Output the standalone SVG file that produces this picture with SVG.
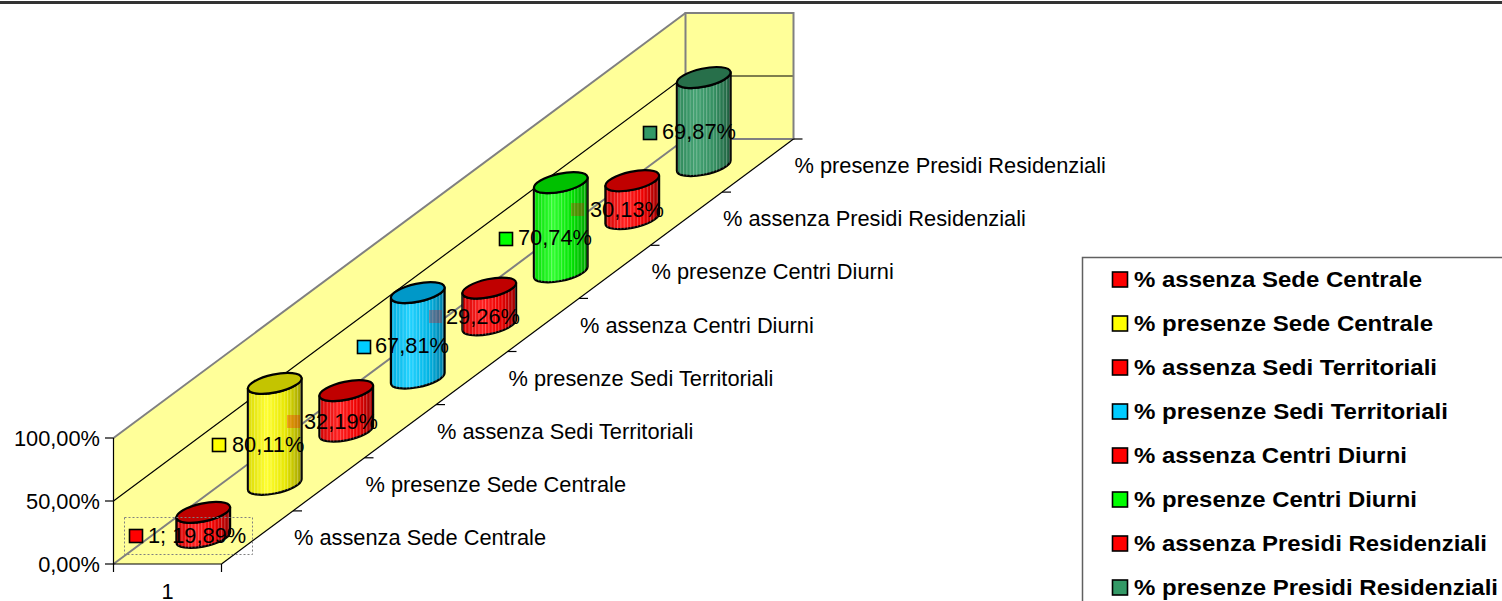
<svg xmlns="http://www.w3.org/2000/svg" width="1502" height="601" viewBox="0 0 1502 601">
<style>
text{font-family:"Liberation Sans",Arial,sans-serif;fill:#000}
.t{font-size:21.8px}
.lg{font-size:22px;font-weight:bold}
.wall{fill:#FFFF99;stroke:none}
.edge{stroke:#808080;stroke-width:2;fill:none}
.blk{stroke:#000;stroke-width:1.2;fill:none}
.body{stroke:#000;stroke-width:2.2;stroke-linejoin:round}
.str{fill:url(#stripes);stroke:none}
.cap{stroke:#000;stroke-width:2.2}
.mk{stroke:#000;stroke-width:1.6}
.fm{fill:#FF0000;opacity:.28;stroke:none}
</style>
<defs>
<pattern id="stripes" patternUnits="userSpaceOnUse" width="3.3" height="40">
<rect x="0" y="0" width="1" height="40" fill="#ffffff" opacity="0.28"/>
</pattern>
<linearGradient id="gR" x1="0" y1="0" x2="1" y2="0">
<stop offset="0" stop-color="#D00000"/><stop offset="0.35" stop-color="#FF2020"/><stop offset="0.7" stop-color="#EE0000"/><stop offset="1" stop-color="#9A0000"/>
</linearGradient>
<linearGradient id="gY" x1="0" y1="0" x2="1" y2="0">
<stop offset="0" stop-color="#DADA00"/><stop offset="0.35" stop-color="#FFFF30"/><stop offset="0.7" stop-color="#E6E600"/><stop offset="1" stop-color="#A0A000"/>
</linearGradient>
<linearGradient id="gB" x1="0" y1="0" x2="1" y2="0">
<stop offset="0" stop-color="#00AEDF"/><stop offset="0.35" stop-color="#22D2FF"/><stop offset="0.7" stop-color="#00B4E4"/><stop offset="1" stop-color="#007CA4"/>
</linearGradient>
<linearGradient id="gG" x1="0" y1="0" x2="1" y2="0">
<stop offset="0" stop-color="#00DC00"/><stop offset="0.35" stop-color="#30FF30"/><stop offset="0.7" stop-color="#00E400"/><stop offset="1" stop-color="#00A000"/>
</linearGradient>
<linearGradient id="gD" x1="0" y1="0" x2="1" y2="0">
<stop offset="0" stop-color="#2C8658"/><stop offset="0.35" stop-color="#44A272"/><stop offset="0.7" stop-color="#338E60"/><stop offset="1" stop-color="#1E5E3E"/>
</linearGradient>
</defs>
<rect x="0" y="0" width="1502" height="601" fill="#ffffff"/>
<line x1="0" y1="2.5" x2="1502" y2="2.5" stroke="#333333" stroke-width="3"/>

<g id="plot-area">
<polygon class="wall" points="113.5,438 685.5,13 685.5,139 113.5,564"/>
<rect class="wall" x="685.5" y="13" width="108" height="126"/>
<polygon class="wall" points="113.5,564 221.5,564 793.5,139 685.5,139"/>
<polyline class="blk" points="113.5,501 685.5,76 793.5,76"/>
<line class="edge" x1="113.5" y1="438" x2="685.5" y2="13"/>
<rect class="edge" x="685.5" y="13" width="108" height="126"/>
<line class="edge" x1="113.5" y1="564" x2="685.5" y2="139"/>
<line class="blk" x1="221.5" y1="564" x2="793.5" y2="139"/>
<line class="blk" x1="113.5" y1="564" x2="221.5" y2="564"/>
<line class="blk" x1="113.5" y1="438" x2="113.5" y2="572"/>
<line class="blk" x1="221.5" y1="564" x2="221.5" y2="572"/>
<line class="blk" x1="105" y1="438" x2="113.5" y2="438"/>
<line class="blk" x1="105" y1="501" x2="113.5" y2="501"/>
<line class="blk" x1="105" y1="564" x2="113.5" y2="564"/>
<g class="blk">
<line x1="293" y1="510.9" x2="302" y2="510.9"/>
<line x1="364.5" y1="457.8" x2="373.5" y2="457.8"/>
<line x1="436" y1="404.6" x2="445" y2="404.6"/>
<line x1="507.5" y1="351.5" x2="516.5" y2="351.5"/>
<line x1="579" y1="298.4" x2="588" y2="298.4"/>
<line x1="650.5" y1="245.3" x2="659.5" y2="245.3"/>
<line x1="722" y1="192.1" x2="731" y2="192.1"/>
<line x1="793.5" y1="139" x2="802.5" y2="139"/>
</g>
</g>

<g id="axis-labels" class="t">
<text x="100" y="445.5" text-anchor="end">100,00%</text>
<text x="100" y="508.5" text-anchor="end">50,00%</text>
<text x="100" y="571.5" text-anchor="end">0,00%</text>
<text x="167.5" y="599" text-anchor="middle">1</text>
<text x="294" y="545">% assenza Sede Centrale</text>
<text x="365.5" y="491.9">% presenze Sede Centrale</text>
<text x="437" y="438.8">% assenza Sedi Territoriali</text>
<text x="508.5" y="385.6">% presenze Sedi Territoriali</text>
<text x="580" y="332.5">% assenza Centri Diurni</text>
<text x="651.5" y="279.4">% presenze Centri Diurni</text>
<text x="723" y="226.3">% assenza Presidi Residenziali</text>
<text x="794.5" y="173.1">% presenze Presidi Residenziali</text>
</g>

<g id="s0-assenza-sede-centrale">
<path class="body" fill="url(#gR)" d="M176.39,517.46 L176.39,542.52 A27.39,9.01,-12.04,0,0,230.11,532.36 L230.11,507.30 A27.39,9.01,-12.04,0,1,176.39,517.46Z"/>
<path class="str" d="M176.39,517.46 L176.39,542.52 A27.39,9.01,-12.04,0,0,230.11,532.36 L230.11,507.30 A27.39,9.01,-12.04,0,1,176.39,517.46Z"/>
<ellipse class="cap" fill="#C00000" cx="203.25" cy="512.38" rx="27.39" ry="9.01" transform="rotate(-12.04 203.25 512.38)"/>
<rect x="124.5" y="517.5" width="128" height="37" fill="none" stroke="#808080" stroke-width="1" stroke-dasharray="2 2"/>
<rect class="mk" x="129.5" y="529.5" width="13" height="13" fill="#FF0000"/>
<text class="t" x="148" y="543">1; 19,89%</text>
</g>

<g id="s1-presenze-sede-centrale">
<path class="body" fill="url(#gY)" d="M247.89,388.45 L247.89,489.39 A27.39,9.01,-12.04,0,0,301.61,479.23 L301.61,378.29 A27.39,9.01,-12.04,0,1,247.89,388.45Z"/>
<path class="str" d="M247.89,388.45 L247.89,489.39 A27.39,9.01,-12.04,0,0,301.61,479.23 L301.61,378.29 A27.39,9.01,-12.04,0,1,247.89,388.45Z"/>
<ellipse class="cap" fill="#C4C400" cx="274.75" cy="383.37" rx="27.39" ry="9.01" transform="rotate(-12.04 274.75 383.37)"/>
<rect class="mk" x="212.5" y="438.5" width="13" height="13" fill="#FFFF00"/>
<text class="t" x="232" y="452">80,11%</text>
</g>

<g id="s2-assenza-sedi-territoriali">
<path class="body" fill="url(#gR)" d="M319.39,395.71 L319.39,436.27 A27.39,9.01,-12.04,0,0,373.11,426.11 L373.11,385.55 A27.39,9.01,-12.04,0,1,319.39,395.71Z"/>
<path class="str" d="M319.39,395.71 L319.39,436.27 A27.39,9.01,-12.04,0,0,373.11,426.11 L373.11,385.55 A27.39,9.01,-12.04,0,1,319.39,395.71Z"/>
<ellipse class="cap" fill="#C00000" cx="346.25" cy="390.63" rx="27.39" ry="9.01" transform="rotate(-12.04 346.25 390.63)"/>
<rect class="fm" x="287" y="415" width="13" height="13"/>
<text class="t" x="304" y="429">32,19%</text>
</g>

<g id="s3-presenze-sedi-territoriali">
<path class="body" fill="url(#gB)" d="M390.89,297.70 L390.89,383.14 A27.39,9.01,-12.04,0,0,444.61,372.98 L444.61,287.54 A27.39,9.01,-12.04,0,1,390.89,297.70Z"/>
<path class="str" d="M390.89,297.70 L390.89,383.14 A27.39,9.01,-12.04,0,0,444.61,372.98 L444.61,287.54 A27.39,9.01,-12.04,0,1,390.89,297.70Z"/>
<ellipse class="cap" fill="#0098C8" cx="417.75" cy="292.62" rx="27.39" ry="9.01" transform="rotate(-12.04 417.75 292.62)"/>
<rect class="mk" x="357.5" y="340.5" width="13" height="13" fill="#00CCFF"/>
<text class="t" x="375" y="353">67,81%</text>
</g>

<g id="s4-assenza-centri-diurni">
<path class="body" fill="url(#gR)" d="M462.39,293.15 L462.39,330.02 A27.39,9.01,-12.04,0,0,516.11,319.86 L516.11,282.99 A27.39,9.01,-12.04,0,1,462.39,293.15Z"/>
<path class="str" d="M462.39,293.15 L462.39,330.02 A27.39,9.01,-12.04,0,0,516.11,319.86 L516.11,282.99 A27.39,9.01,-12.04,0,1,462.39,293.15Z"/>
<ellipse class="cap" fill="#C00000" cx="489.25" cy="288.07" rx="27.39" ry="9.01" transform="rotate(-12.04 489.25 288.07)"/>
<rect class="fm" x="429" y="310" width="13" height="13"/>
<text class="t" x="446" y="324">29,26%</text>
</g>

<g id="s5-presenze-centri-diurni">
<path class="body" fill="url(#gG)" d="M533.89,187.76 L533.89,276.89 A27.39,9.01,-12.04,0,0,587.61,266.73 L587.61,177.60 A27.39,9.01,-12.04,0,1,533.89,187.76Z"/>
<path class="str" d="M533.89,187.76 L533.89,276.89 A27.39,9.01,-12.04,0,0,587.61,266.73 L587.61,177.60 A27.39,9.01,-12.04,0,1,533.89,187.76Z"/>
<ellipse class="cap" fill="#00C000" cx="560.75" cy="182.68" rx="27.39" ry="9.01" transform="rotate(-12.04 560.75 182.68)"/>
<rect class="mk" x="499.5" y="232.5" width="13" height="13" fill="#00FF00"/>
<text class="t" x="518" y="245">70,74%</text>
</g>

<g id="s6-assenza-presidi-residenziali">
<path class="body" fill="url(#gR)" d="M605.39,185.81 L605.39,223.77 A27.39,9.01,-12.04,0,0,659.11,213.61 L659.11,175.65 A27.39,9.01,-12.04,0,1,605.39,185.81Z"/>
<path class="str" d="M605.39,185.81 L605.39,223.77 A27.39,9.01,-12.04,0,0,659.11,213.61 L659.11,175.65 A27.39,9.01,-12.04,0,1,605.39,185.81Z"/>
<ellipse class="cap" fill="#C00000" cx="632.25" cy="180.73" rx="27.39" ry="9.01" transform="rotate(-12.04 632.25 180.73)"/>
<rect class="fm" x="571" y="203" width="13" height="13"/>
<text class="t" x="590" y="217">30,13%</text>
</g>

<g id="s7-presenze-presidi-residenziali">
<path class="body" fill="url(#gD)" d="M676.89,82.60 L676.89,170.64 A27.39,9.01,-12.04,0,0,730.61,160.48 L730.61,72.44 A27.39,9.01,-12.04,0,1,676.89,82.60Z"/>
<path class="str" d="M676.89,82.60 L676.89,170.64 A27.39,9.01,-12.04,0,0,730.61,160.48 L730.61,72.44 A27.39,9.01,-12.04,0,1,676.89,82.60Z"/>
<ellipse class="cap" fill="#276F4A" cx="703.75" cy="77.52" rx="27.39" ry="9.01" transform="rotate(-12.04 703.75 77.52)"/>
<rect class="mk" x="643.5" y="126.5" width="13" height="13" fill="#339966"/>
<text class="t" x="662" y="139">69,87%</text>
</g>

<g id="legend">
<rect x="1082.5" y="257.5" width="440" height="360" fill="#ffffff" stroke="#606060" stroke-width="1.5"/>
<rect class="mk" x="1112.5" y="272" width="15" height="15" fill="#FF0000"/>
<text class="lg" x="1134" y="287" textLength="288" lengthAdjust="spacingAndGlyphs">% assenza Sede Centrale</text>
<rect class="mk" x="1112.5" y="316" width="15" height="15" fill="#FFFF00"/>
<text class="lg" x="1134" y="331" textLength="299" lengthAdjust="spacingAndGlyphs">% presenze Sede Centrale</text>
<rect class="mk" x="1112.5" y="360" width="15" height="15" fill="#FF0000"/>
<text class="lg" x="1134" y="375" textLength="303" lengthAdjust="spacingAndGlyphs">% assenza Sedi Territoriali</text>
<rect class="mk" x="1112.5" y="404" width="15" height="15" fill="#00CCFF"/>
<text class="lg" x="1134" y="419" textLength="314" lengthAdjust="spacingAndGlyphs">% presenze Sedi Territoriali</text>
<rect class="mk" x="1112.5" y="448" width="15" height="15" fill="#FF0000"/>
<text class="lg" x="1134" y="463" textLength="273" lengthAdjust="spacingAndGlyphs">% assenza Centri Diurni</text>
<rect class="mk" x="1112.5" y="492" width="15" height="15" fill="#00FF00"/>
<text class="lg" x="1134" y="507" textLength="283" lengthAdjust="spacingAndGlyphs">% presenze Centri Diurni</text>
<rect class="mk" x="1112.5" y="536" width="15" height="15" fill="#FF0000"/>
<text class="lg" x="1134" y="551" textLength="353" lengthAdjust="spacingAndGlyphs">% assenza Presidi Residenziali</text>
<rect class="mk" x="1112.5" y="580" width="15" height="15" fill="#339966"/>
<text class="lg" x="1134" y="595" textLength="364" lengthAdjust="spacingAndGlyphs">% presenze Presidi Residenziali</text>
</g>
</svg>
